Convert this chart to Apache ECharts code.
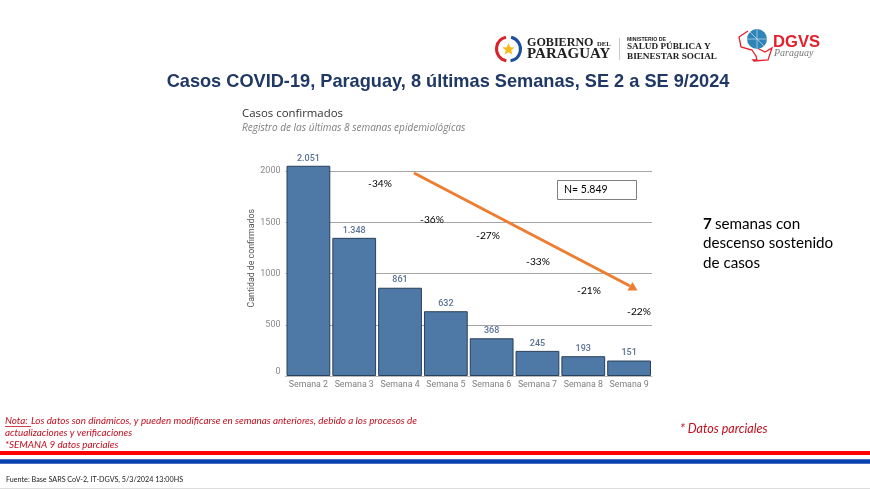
<!DOCTYPE html>
<html><head><meta charset="utf-8">
<script src="https://cdn.jsdelivr.net/npm/echarts@6/dist/echarts.min.js"></script>
<style>html,body{margin:0;padding:0;background:#fff}#c{width:870px;height:489px}</style>
</head><body><div id="c"></div>
<script>
const categories = ['Semana 2','Semana 3','Semana 4','Semana 5','Semana 6','Semana 7','Semana 8','Semana 9'];
const casos = [2051,1348,861,632,368,245,193,151];
const casosTexto = ['2.051','1.348','861','632','368','245','193','151'];
const variacion = ['-34%','-36%','-27%','-33%','-21%','-22%'];
const variacionX = [380,432,488,538,589,639];
const variacionY = [184,220,236,262,291,312];

function t(text,x,y,o){
  return {type:'text',silent:true,z:20,style:Object.assign({text:text,x:x,y:y,textVerticalAlign:'middle',fill:'#000',fontFamily:'Lato',fontSize:11},o||{})};
}
function r(x,y,w,h,fill,extra){
  return {type:'rect',silent:true,z:5,shape:{x:x,y:y,width:w,height:h},style:Object.assign({fill:fill},extra||{})};
}
const RED='#c00f1e';
const gr=[
  t('Casos COVID-19, Paraguay, 8 últimas Semanas, SE 2 a SE 9/2024',448,82,{fontFamily:'Liberation Sans',fontWeight:'bold',fontSize:18.2,fill:'#1f3864',textAlign:'center'}),
  t('Casos confirmados',242,114,{fontFamily:'Open Sans',fontSize:11.4,fill:'#333'}),
  t('Registro de las últimas 8 semanas epidemiológicas',242,128.5,{fontFamily:'Open Sans',fontStyle:'italic',fontSize:10,fill:'#7f7f7f'}),
  r(557.5,180.5,79,19,'#fff',{stroke:'#7f7f7f',lineWidth:1}),
  t('N= 5.849',564,190,{fontSize:10.5}),
  {type:'line',silent:true,z:15,shape:{x1:414,y1:173,x2:630,y2:286},style:{stroke:'#ed7d31',lineWidth:3}},
  {type:'polygon',silent:true,z:15,shape:{points:[[637.5,290.5],[627.5,290.5],[632.5,282]]},style:{fill:'#ed7d31'}},
  t('7',703,224,{fontFamily:'Lato',fontWeight:'bold',fontSize:15.2}),
  t(' semanas con',711,224,{fontFamily:'Lato',fontSize:15.2}),
  t('descenso sostenido',703,243.5,{fontFamily:'Lato',fontSize:15.2}),
  t('de casos',703,263,{fontFamily:'Lato',fontSize:15.2}),
  t('Nota: ',5,421,{fontFamily:'Lato',fontStyle:'italic',fontSize:9.85,fill:RED}),
  r(5,426.2,26,0.8,RED),
  t('Los datos son dinámicos, y pueden modificarse en semanas anteriores, debido a los procesos de',31,421,{fontFamily:'Lato',fontStyle:'italic',fontSize:9.85,fill:RED}),
  t('actualizaciones y verificaciones',5,433,{fontFamily:'Lato',fontStyle:'italic',fontSize:9.85,fill:RED}),
  t('*SEMANA 9 datos parciales',5,445,{fontFamily:'Lato',fontStyle:'italic',fontSize:9.85,fill:RED}),
  t('* Datos parciales',680,429,{fontFamily:'Lato',fontStyle:'italic',fontSize:12.5,fill:RED}),
  r(0,451,870,4,'#ff0000'),
  r(0,459.3,870,4.4,'#0a3fae'),
  t('Fuente: Base SARS CoV-2, IT-DGVS, 5/3/2024 13:00HS',6,480,{fontFamily:'Lato',fontSize:7.2,fill:'#222'}),
  r(0,488,870,1,'#dddddd'),
  // Gobierno emblem
  {type:'arc',silent:true,z:6,shape:{cx:508.5,cy:49,r:12,startAngle:1.75,endAngle:4.5},style:{stroke:'#d8232a',lineWidth:3,fill:null}},
  {type:'arc',silent:true,z:6,shape:{cx:508.5,cy:49,r:12,startAngle:-1.35,endAngle:1.4},style:{stroke:'#1c4fa0',lineWidth:3,fill:null}},
  {type:'polygon',silent:true,z:7,shape:{points:[[508.5,43],[510.2,47.2],[514.5,47.5],[511.2,50.3],[512.3,54.5],[508.5,52.2],[504.7,54.5],[505.8,50.3],[502.5,47.5],[506.8,47.2]]},style:{fill:'#f6b81a'}},
  t('GOBIERNO',527,43,{fontFamily:'Liberation Serif',fontWeight:'bold',fontSize:12.1,fill:'#222'}),
  t('DEL',597,44,{fontFamily:'Liberation Serif',fontWeight:'bold',fontSize:6.6,fill:'#222'}),
  t('PARAGUAY',527,54.5,{fontFamily:'Liberation Serif',fontWeight:'bold',fontSize:15,fill:'#222'}),
  r(619,38,0.8,22,'#bbbbbb'),
  t('MINISTERIO DE',627,40,{fontFamily:'Liberation Sans',fontWeight:'bold',fontSize:5.2,fill:'#222'}),
  t('SALUD PÚBLICA Y',627,47,{fontFamily:'Liberation Serif',fontWeight:'bold',fontSize:9.2,fill:'#222'}),
  t('BIENESTAR SOCIAL',627,57,{fontFamily:'Liberation Serif',fontWeight:'bold',fontSize:9.2,fill:'#222'}),
  // DGVS logo
  {type:'polyline',silent:true,z:6,shape:{points:[[748,31],[739,37],[741,47],[752,50],[756,56],[757,60],[753,60],[754,61],[768,60],[770,54],[772,48],[765,52],[759,49],[751,43],[748,36]]},style:{stroke:'#e3202c',lineWidth:1.3,fill:null}},
  {type:'circle',silent:true,z:7,shape:{cx:757,cy:39,r:10},style:{fill:'#2f84b8'}},
  {type:'line',silent:true,z:8,shape:{x1:747,y1:39,x2:767,y2:39},style:{stroke:'#bfe0f0',lineWidth:0.7}},
  {type:'line',silent:true,z:8,shape:{x1:757,y1:29,x2:757,y2:49},style:{stroke:'#bfe0f0',lineWidth:0.7}},
  {type:'line',silent:true,z:8,shape:{x1:750,y1:32,x2:764,y2:46},style:{stroke:'#bfe0f0',lineWidth:0.7}},
  t('DGVS',773,42.5,{fontFamily:'Liberation Sans',fontWeight:'bold',fontSize:16.6,fill:'#e3202c'}),
  t('Paraguay',774,53.5,{fontFamily:'Liberation Serif',fontStyle:'italic',fontSize:10,fill:'#777'})
];
variacion.forEach((v,i)=>gr.push(t(v,variacionX[i],variacionY[i],{textAlign:'center',fontSize:10.2})));

const chart=echarts.init(document.getElementById('c'),null,{renderer:'canvas'});
chart.setOption({
  animation:false,
  backgroundColor:'#fff',
  grid:{left:285.5,top:150.5,width:366.5,height:225.5},
  xAxis:{type:'category',data:categories,axisTick:{show:false},
    axisLine:{show:true,lineStyle:{color:'#bbbbbb',width:1}},
    axisLabel:{color:'#808080',fontFamily:'Roboto',fontSize:8.8,margin:4,interval:0}},
  yAxis:{type:'value',min:0,max:2200,interval:500,
    name:'Cantidad de confirmados',nameLocation:'middle',nameGap:28,nameRotate:90,
    nameTextStyle:{color:'#555',fontFamily:'Roboto',fontSize:8.8,fontWeight:'normal',padding:[0,0,0,10]},
    axisLine:{show:false},axisTick:{show:false},
    axisLabel:{color:'#888',fontFamily:'Roboto',fontSize:9,margin:5,showMaxLabel:false,verticalAlignMinLabel:'bottom',
      formatter:v=>String(v)},
    splitLine:{show:true,showMaxLine:false,lineStyle:{color:'#a6a6a6',width:1}}},
  series:[{type:'bar',data:casos,barCategoryGap:'4.5%',
    itemStyle:{color:'#4e79a7',borderColor:'#2a3f58',borderWidth:1},
    label:{show:true,position:'top',distance:3,color:'#5a7396',fontFamily:'Roboto',fontWeight:'500',fontSize:9,
      formatter:p=>casosTexto[p.dataIndex]}}],
  graphic:{elements:gr}
});
</script></body></html>
